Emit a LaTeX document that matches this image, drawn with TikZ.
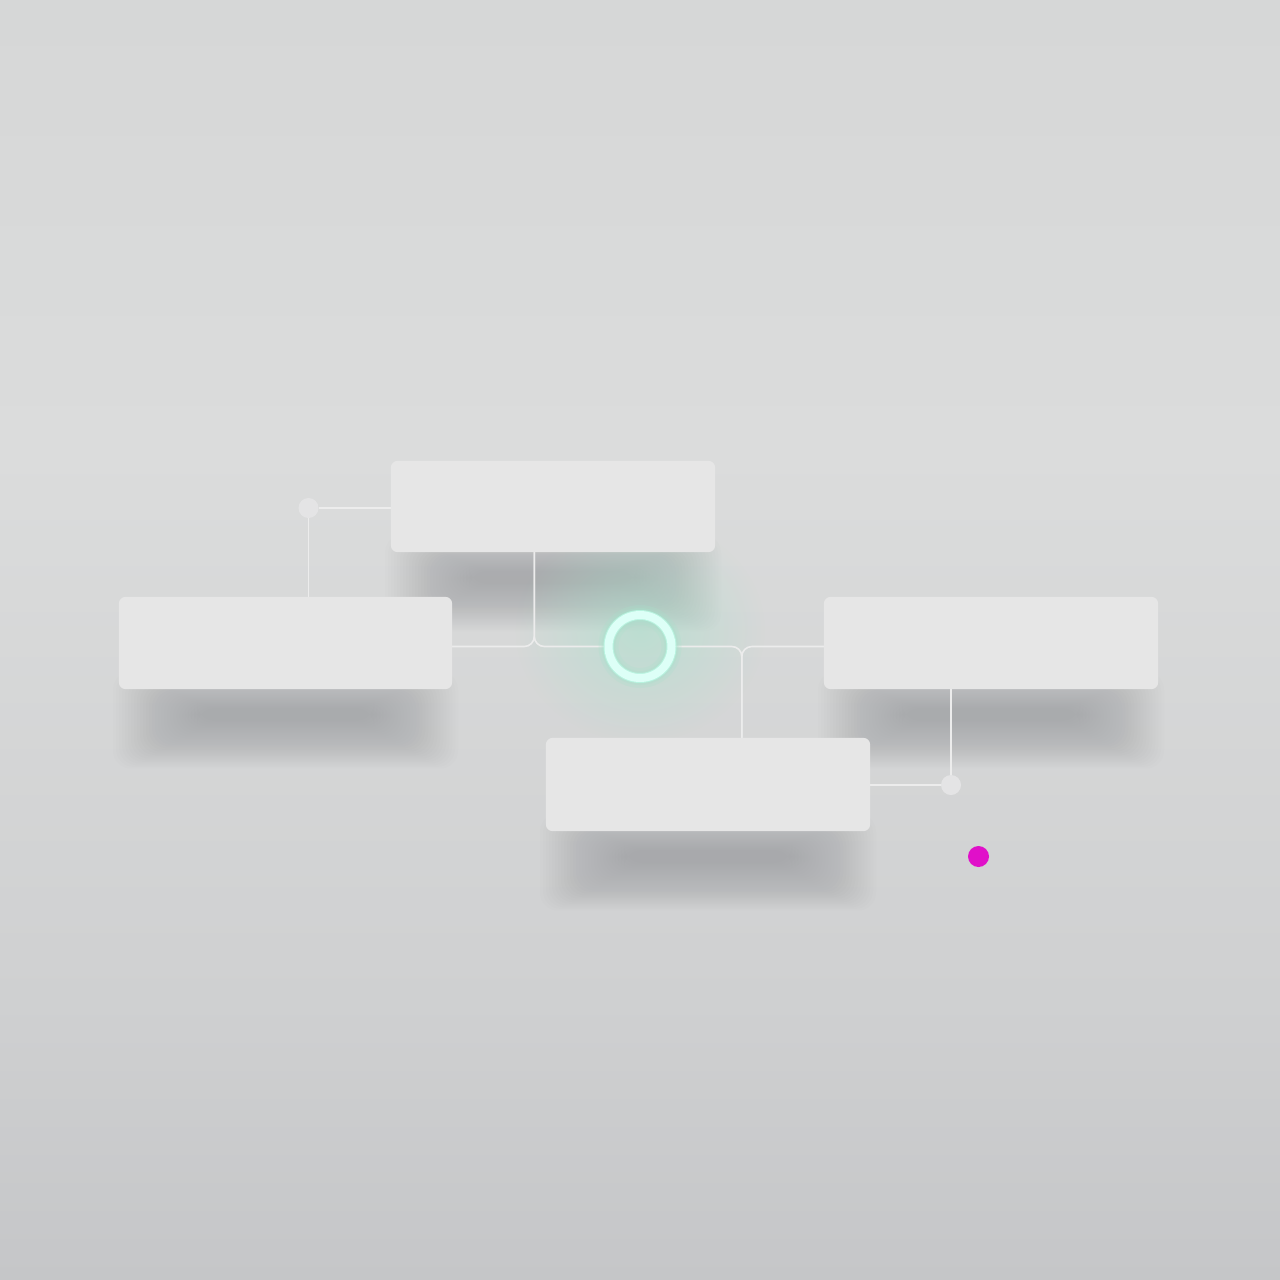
\documentclass[tikz,border=0pt]{standalone}
\usetikzlibrary{fadings,calc}
\definecolor{bgtop}{HTML}{D6D7D7}
\definecolor{bgmid}{HTML}{DBDCDC}
\definecolor{bglow}{HTML}{CFD0D1}
\definecolor{bgbot}{HTML}{C5C6C8}
\definecolor{boxcol}{HTML}{E6E6E6}
\definecolor{conncol}{HTML}{ECECEC}
\definecolor{dotcol}{HTML}{E4E4E5}
\definecolor{shadowcol}{HTML}{85878B}
\definecolor{glowcol}{HTML}{A6E3CC}
\definecolor{ringcol}{HTML}{DDFFF7}
\definecolor{ringedge}{HTML}{B8F3DF}
\definecolor{magentacol}{HTML}{E010C9}
\pgfdeclareverticalshading{bgshade}{100bp}{color(0bp)=(bgbot); color(25bp)=(bgbot); color(35.9bp)=(bglow); color(57.4bp)=(bgmid); color(75bp)=(bgtop); color(100bp)=(bgtop)}
\tikzfading[name=glowfade, inner color=transparent!45, outer color=transparent!100]
\begin{document}
\begin{tikzpicture}[x=1pt,y=-1pt,
  panel/.style={rectangle, inner sep=0pt, draw=none},
  panelfill/.style={fill=boxcol, rounded corners=7pt},
  conn/.style={draw=conncol, line width=1.6pt},
  junction/.style={conn, rounded corners=10pt},
  smalldot/.style={circle, minimum size=20pt, inner sep=0pt},
  accent/.style={circle, fill=magentacol, minimum size=21pt, inner sep=0pt},
  ringnode/.style={circle, minimum size=63pt, inner sep=0pt}
]
% background
\useasboundingbox (0,0) rectangle (1280,1280);
\fill[shading=bgshade] (0,0) rectangle (1280,1280);

% soft shadows
\newcommand{\panelshadow}[3]{%
  \foreach \i in {0,...,28} {
    \fill[shadowcol, opacity=0.018, rounded corners=18pt]
      ({#1+78-\i*3.0},{#3+19-\i*1.3}) rectangle ({#2-78+\i*3.0},{#3+32+\i*1.7});
  }}
\panelshadow{391}{715}{552}
\panelshadow{119}{452}{689}
\panelshadow{824}{1158}{689}
\panelshadow{546}{870}{831}

% glow around ring
\fill[glowcol, path fading=glowfade] (640,630) ellipse (125 and 112);

% nodes (positions)
\node[panel, minimum width=324pt, minimum height=91pt] (b1) at (553,506.5) {};
\node[panel, minimum width=333pt, minimum height=92pt] (b2) at (285.5,643) {};
\node[panel, minimum width=334pt, minimum height=92pt] (b3) at (991,643) {};
\node[panel, minimum width=324pt, minimum height=93pt] (b4) at (708,784.5) {};
\node[ringnode] (ring) at (640,646.5) {};
\node[smalldot] (d1) at (308.5,508) {};
\node[smalldot] (d2) at (951,785) {};
\node[accent] (m) at (978.5,856.5) {};
\coordinate (j1top) at ($(b1.south west)+(143.5,0)$);
\coordinate (j2bot) at ($(b4.north west)+(196,0)$);

% connectors
\draw[conn] (d1) -- (d1 -| b1.west);
\draw[conn] (d1) -- (d1 |- b2.north);
\draw[junction] (j1top) |- (b2.east |- ring);
\draw[junction] (j1top) |- (ring.west);
\draw[junction] (j2bot) |- (ring.east);
\draw[junction] (j2bot) |- (b3.west |- ring);
\draw[conn] (d2) -- (d2 -| b4.east);
\draw[conn] (d2) -- (d2 |- b3.south);

% panels and dots on top of connector ends
\fill[panelfill] (b1.south west) rectangle (b1.north east);
\fill[panelfill] (b2.south west) rectangle (b2.north east);
\fill[panelfill] (b3.south west) rectangle (b3.north east);
\fill[panelfill] (b4.south west) rectangle (b4.north east);
\fill[dotcol] (d1) circle (10);
\fill[dotcol] (d2) circle (10);

% ring
\draw[glowcol, line width=20pt, opacity=0.22] (ring) circle (31.5);
\draw[glowcol, line width=14pt, opacity=0.3] (ring) circle (31.5);
\draw[ringedge, line width=10pt] (ring) circle (31.5);
\draw[ringcol, line width=8pt] (ring) circle (31.5);
\end{tikzpicture}
\end{document}
